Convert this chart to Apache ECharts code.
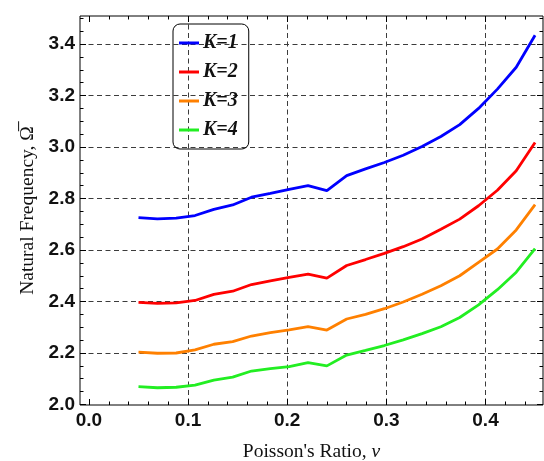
<!DOCTYPE html>
<html>
<head>
<meta charset="utf-8">
<script src="https://cdn.jsdelivr.net/npm/echarts@6/dist/echarts.min.js"></script>
<style>
html,body{margin:0;padding:0;background:#fff;}
#chart{width:544px;height:461px;}
</style>
</head>
<body>
<div id="chart"></div>
<script>
// Poisson's ratio samples
const nu = [0.050, 0.069, 0.088, 0.107, 0.126, 0.145, 0.164, 0.183, 0.202, 0.221, 0.240,
            0.260, 0.279, 0.298, 0.317, 0.336, 0.355, 0.374, 0.393, 0.412, 0.431, 0.450];
// Natural frequency for each K
const k1 = [2.726, 2.721, 2.724, 2.734, 2.758, 2.775, 2.805, 2.820, 2.836, 2.850, 2.831,
            2.889, 2.915, 2.940, 2.968, 3.002, 3.041, 3.087, 3.150, 3.225, 3.310, 3.434];
const k2 = [2.397, 2.393, 2.395, 2.404, 2.428, 2.440, 2.466, 2.480, 2.494, 2.506, 2.491,
            2.540, 2.563, 2.587, 2.613, 2.643, 2.681, 2.720, 2.772, 2.832, 2.908, 3.018];
const k3 = [2.203, 2.199, 2.200, 2.212, 2.234, 2.244, 2.266, 2.279, 2.290, 2.302, 2.289,
            2.332, 2.350, 2.372, 2.398, 2.428, 2.461, 2.500, 2.552, 2.604, 2.678, 2.776];
const k4 = [2.069, 2.065, 2.067, 2.075, 2.095, 2.106, 2.130, 2.139, 2.147, 2.163, 2.150,
            2.192, 2.210, 2.229, 2.251, 2.275, 2.302, 2.338, 2.387, 2.446, 2.514, 2.605];
const seriesNames = ['K=1', 'K=2', 'K=3', 'K=4'];

// Tick values
const xMajorTicks = [0.0, 0.1, 0.2, 0.3, 0.4];
const xGridLines = [0.1, 0.2, 0.3, 0.4];
const xMinorTicks = [0.00, 0.02, 0.04, 0.06, 0.08, 0.10, 0.12, 0.14, 0.16, 0.18, 0.20, 0.22,
                     0.24, 0.26, 0.28, 0.30, 0.32, 0.34, 0.36, 0.38, 0.40, 0.42, 0.44];
const yMajorTicks = [2.0, 2.2, 2.4, 2.6, 2.8, 3.0, 3.2, 3.4];
const yGridLines = [2.2, 2.4, 2.6, 2.8, 3.0, 3.2, 3.4];
const yMinorTicks = [2.00, 2.05, 2.10, 2.15, 2.20, 2.25, 2.30, 2.35, 2.40, 2.45, 2.50, 2.55,
                     2.60, 2.65, 2.70, 2.75, 2.80, 2.85, 2.90, 2.95, 3.00, 3.05, 3.10, 3.15,
                     3.20, 3.25, 3.30, 3.35, 3.40, 3.45, 3.50];

const XMIN = -0.009, XMAX = 0.458;
const YMIN = 1.998, YMAX = 3.509;

const colors = ['#0000ff', '#ff0000', '#ff8000', '#22ee22'];
const values = [k1, k2, k3, k4];

const chart = echarts.init(document.getElementById('chart'), null, {renderer: 'canvas'});

const gridDash = {type: [5, 3.5], color: '#3c3c3c', width: 1};
const labelFont = {fontFamily: 'Liberation Sans', fontWeight: 'bold', fontSize: 19, color: '#111'};

function xAx(pos, ticks, len, extra) {
  return Object.assign({
    type: 'value', position: pos, min: XMIN, max: XMAX,
    axisLine: {show: false, onZero: false},
    axisTick: {show: len > 0, inside: true, length: len, customValues: ticks, lineStyle: {color: '#000', width: 1}},
    axisLabel: {show: false},
    splitLine: {show: false}
  }, extra || {});
}
function yAx(pos, ticks, len, extra) {
  return Object.assign({
    type: 'value', position: pos, min: YMIN, max: YMAX,
    axisLine: {show: false, onZero: false},
    axisTick: {show: len > 0, inside: true, length: len, customValues: ticks, lineStyle: {color: '#000', width: 1}},
    axisLabel: {show: false},
    splitLine: {show: false}
  }, extra || {});
}

const option = {
  animation: false,
  backgroundColor: '#fff',
  grid: {left: 80, right: 1, top: 16, bottom: 56, outerBoundsMode: 'none', containLabel: false,
         show: true, borderColor: '#000', borderWidth: 1, backgroundColor: 'transparent'},
  xAxis: [
    xAx('bottom', xMajorTicks, 6, {
      name: "Poisson's Ratio, {i|ν}", nameLocation: 'middle', nameGap: 37,
      nameTextStyle: {fontFamily: 'Liberation Serif', fontSize: 19.5, color: '#111',
        rich: {i: {fontFamily: 'Liberation Serif', fontStyle: 'italic', fontSize: 19.5, color: '#111'}}},
      axisLabel: Object.assign({show: true, margin: 6, customValues: xMajorTicks,
        formatter: v => v.toFixed(1)}, labelFont)
    }),
    xAx('bottom', xMinorTicks, 3.5),
    xAx('top', xMajorTicks, 6),
    xAx('top', xMinorTicks, 3.5),
    xAx('bottom', xGridLines, 0, {splitLine: {show: true, lineStyle: gridDash}})
  ],
  yAxis: [
    yAx('left', yMajorTicks, 6, {
      name: 'Natural Frequency, Ω\u0305', nameLocation: 'middle', nameGap: 35,
      nameTextStyle: {fontFamily: 'Liberation Serif', fontSize: 19.5, color: '#111'},
      axisLabel: Object.assign({show: true, margin: 5, customValues: yMajorTicks,
        formatter: v => v.toFixed(1)}, labelFont)
    }),
    yAx('left', yMinorTicks, 3.5),
    yAx('right', yMajorTicks, 6),
    yAx('right', yMinorTicks, 3.5),
    yAx('left', yGridLines, 0, {splitLine: {show: true, lineStyle: gridDash}})
  ],
  legend: {
    orient: 'vertical', left: 173, top: 24,
    padding: [9, 11, 9, 6], itemGap: 9,
    borderColor: '#000', borderWidth: 1, borderRadius: 7,
    icon: 'rect', itemWidth: 20, itemHeight: 3,
    textStyle: {fontFamily: 'Liberation Serif', fontWeight: 'bold', fontStyle: 'italic', fontSize: 20, color: '#111', padding: [0, 0, 0, -1]},
    data: seriesNames
  },
  series: seriesNames.map((n, i) => ({
    name: n, type: 'line', xAxisIndex: 0, yAxisIndex: 0,
    symbol: 'none', smooth: false,
    lineStyle: {color: colors[i], width: 2.8},
    itemStyle: {color: colors[i]},
    data: nu.map((x, j) => [x, values[i][j]])
  }))
};
chart.setOption(option);
</script>
</body>
</html>
